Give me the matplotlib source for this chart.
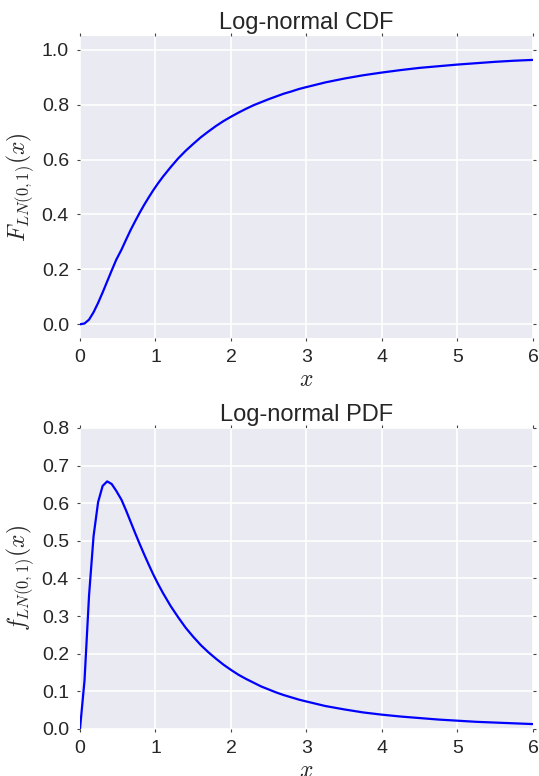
import matplotlib
matplotlib.use('Agg')
import matplotlib.pyplot as plt

# values (log-normal, mu=0, sigma=1)
x = [0.0, 0.06, 0.12, 0.18, 0.24, 0.30, 0.36, 0.42, 0.48, 0.55, 0.61, 0.67,
     0.73, 0.79, 0.85, 0.91, 0.97, 1.03, 1.1, 1.2, 1.3, 1.4, 1.5, 1.6, 1.7,
     1.8, 1.9, 2.0, 2.1, 2.2, 2.3, 2.4, 2.5, 2.6, 2.7, 2.8, 2.9, 3.0, 3.25,
     3.5, 3.75, 4.0, 4.25, 4.5, 4.75, 5.0, 5.25, 5.5, 5.75, 6.0]
cdf = [0.0, 0.003, 0.017, 0.044, 0.078, 0.116, 0.156, 0.196, 0.235, 0.272,
       0.308, 0.343, 0.375, 0.406, 0.435, 0.462, 0.488, 0.512, 0.538, 0.572,
       0.604, 0.632, 0.657, 0.681, 0.702, 0.722, 0.740, 0.756, 0.771, 0.785,
       0.798, 0.809, 0.820, 0.830, 0.840, 0.848, 0.857, 0.864, 0.881, 0.895,
       0.907, 0.917, 0.926, 0.934, 0.940, 0.946, 0.951, 0.956, 0.960, 0.963]
pdf = [0.0, 0.129, 0.355, 0.513, 0.603, 0.646, 0.658, 0.651, 0.633, 0.609,
       0.581, 0.551, 0.521, 0.492, 0.464, 0.437, 0.411, 0.387, 0.361, 0.327,
       0.297, 0.269, 0.245, 0.223, 0.204, 0.187, 0.171, 0.157, 0.144, 0.133,
       0.123, 0.113, 0.105, 0.097, 0.090, 0.084, 0.078, 0.073, 0.061, 0.052,
       0.044, 0.038, 0.033, 0.029, 0.025, 0.022, 0.019, 0.017, 0.015, 0.013]

plt.rcParams['font.family'] = ['Liberation Sans', 'DejaVu Sans']
plt.rcParams['mathtext.fontset'] = 'cm'

fig = plt.figure(figsize=(5.39, 7.76), dpi=100)
ax1 = fig.add_axes([0.1484, 0.5644, 0.8404, 0.3892])
ax2 = fig.add_axes([0.1484, 0.0606, 0.8404, 0.3879])


def style(ax):
    ax.set_facecolor('#EAEAF2')
    ax.grid(True, color='white', linewidth=1.2)
    ax.set_axisbelow(True)
    for s in ax.spines.values():
        s.set_visible(False)
    ax.tick_params(direction='out', length=2, width=0.8, color='#444444',
                   labelsize=14, labelcolor='#262626', pad=6,
                   top=True, right=True)


ax1.plot(x, cdf, color='#0000ff', linewidth=1.6)
style(ax1)
ax1.set_xlim(0, 6)
ax1.set_ylim(-0.05, 1.05)
ax1.set_yticks([0.0, 0.2, 0.4, 0.6, 0.8, 1.0])
ax1.set_title('Log-normal CDF', fontsize=17, color='#262626', pad=5)
ax1.set_xlabel('$x$', fontsize=17, color='#262626', labelpad=2)
ax1.set_ylabel('$F_{LN(0,1)}(x)$', fontsize=17, color='#262626', labelpad=4)

ax2.plot(x, pdf, color='#0000ff', linewidth=1.6)
style(ax2)
ax2.set_xlim(0, 6)
ax2.set_ylim(0, 0.8)
ax2.set_yticks([0.0, 0.1, 0.2, 0.3, 0.4, 0.5, 0.6, 0.7, 0.8])
ax2.set_title('Log-normal PDF', fontsize=17, color='#262626', pad=5)
ax2.set_xlabel('$x$', fontsize=17, color='#262626', labelpad=2)
ax2.set_ylabel('$f_{LN(0,1)}(x)$', fontsize=17, color='#262626', labelpad=4)

fig.savefig('out.png', dpi=100)
